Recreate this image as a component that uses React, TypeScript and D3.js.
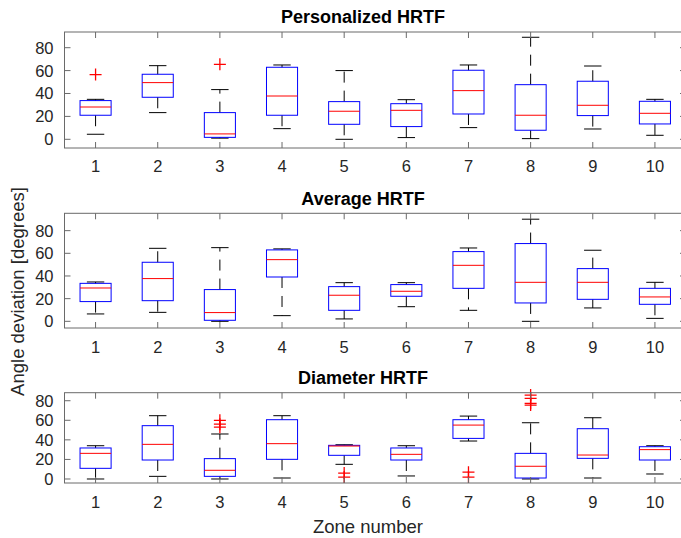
import React from 'react';
import * as d3 from 'd3';

// zone numbers on the x axis
const zones = [1, 2, 3, 4, 5, 6, 7, 8, 9, 10];
const yTicks = [0, 20, 40, 60, 80];

// Personalized HRTF
const persLow = [4.4, 23.3, 1.0, 9.3, 0, 1.5, 10.2, 0.6, 9.0, 3.5];
const persQ1 = [21.0, 36.7, 1.7, 21.0, 13.1, 11.1, 22.1, 7.9, 20.7, 13.4];
const persMed = [28.2, 49.5, 4.7, 37.8, 24.5, 25.3, 42.5, 21.0, 29.7, 22.7];
const persQ3 = [33.8, 56.8, 23.3, 62.9, 32.9, 31.1, 60.3, 47.7, 50.7, 33.2];
const persHigh = [34.9, 64.3, 43.4, 64.9, 60.0, 34.6, 64.9, 89.1, 64.0, 34.9];
const persOut: [number, number][] = [[1, 56.5], [3, 65.5]];

// Average HRTF
const avgLow = [6.5, 7.9, 0, 5.0, 2.1, 12.9, 9.7, 0, 11.8, 2.6];
const avgQ1 = [17.4, 18.2, 0.9, 39.1, 9.7, 22.1, 29.1, 16.2, 19.4, 15.0];
const avgMed = [29.4, 37.7, 7.7, 54.4, 23.0, 26.5, 49.4, 34.4, 34.4, 21.5];
const avgQ3 = [33.5, 52.1, 28.0, 63.0, 30.6, 32.4, 61.5, 68.6, 46.5, 29.1];
const avgHigh = [34.7, 64.4, 65.0, 63.9, 34.1, 34.1, 64.7, 90.1, 62.7, 34.4];
const avgOut: [number, number][] = [];

// Diameter HRTF
const diaLow = [0, 2.7, 0, 1.0, 15.0, 3.1, 38.8, 0, 1.0, 5.1];
const diaQ1 = [10.9, 19.4, 2.7, 20.1, 24.2, 19.4, 41.5, 1.0, 21.1, 19.4];
const diaMed = [26.2, 35.4, 8.9, 36.1, 33.7, 25.2, 55.1, 13.0, 24.5, 30.0];
const diaQ3 = [31.7, 54.5, 20.8, 60.6, 34.4, 31.7, 60.6, 26.2, 51.4, 33.0];
const diaHigh = [34.0, 64.7, 46.0, 64.7, 35.0, 34.0, 64.3, 57.5, 62.6, 34.0];
const diaOut: [number, number][] = [
  [3, 60], [3, 56], [3, 53],
  [5, 6], [5, 2],
  [7, 7], [7, 2],
  [8, 85.8], [8, 82.4], [8, 77.3], [8, 75.5],
];

const W = 681;
const H = 538;
const font = 'Liberation Sans, Arial, Helvetica, sans-serif';
const axisColor = '#6a6a6a';
const textColor = '#262626';

const x = d3.scaleLinear().domain([0.5, 10.5]).range([64.5, 686]);

type PanelProps = {
  title: string;
  top: number;
  bottom: number;
  ylim: [number, number];
  titleY: number;
  labelY: number;
  low: number[];
  q1: number[];
  med: number[];
  q3: number[];
  high: number[];
  out: [number, number][];
};

const Panel = ({ title, top, bottom, ylim, titleY, labelY, low, q1, med, q3, high, out }: PanelProps) => {
  const y = d3.scaleLinear().domain(ylim).range([bottom, top]);
  const left = x.range()[0];
  const right = x.range()[1];
  const boxHalf = 0.25;
  const capHalf = 0.14;
  const tick = 6;

  return (
    <g>
      {/* whiskers and caps */}
      {zones.map((z, i) => (
        <g key={'w' + z}>
          <line x1={x(z)} x2={x(z)} y1={y(q3[i])} y2={y(high[i])} stroke="#000" strokeWidth={1} strokeDasharray="11,8" />
          <line x1={x(z)} x2={x(z)} y1={y(q1[i])} y2={y(low[i])} stroke="#000" strokeWidth={1} strokeDasharray="11,8" />
          <line x1={x(z - capHalf)} x2={x(z + capHalf)} y1={y(high[i])} y2={y(high[i])} stroke="#000" strokeWidth={1} />
          <line x1={x(z - capHalf)} x2={x(z + capHalf)} y1={y(low[i])} y2={y(low[i])} stroke="#000" strokeWidth={1} />
        </g>
      ))}
      {/* boxes */}
      {zones.map((z, i) => (
        <rect key={'b' + z} x={x(z - boxHalf)} y={y(q3[i])} width={x(z + boxHalf) - x(z - boxHalf)}
          height={y(q1[i]) - y(q3[i])} fill="none" stroke="#0000ff" strokeWidth={1} />
      ))}
      {/* medians */}
      {zones.map((z, i) => (
        <line key={'m' + z} x1={x(z - boxHalf)} x2={x(z + boxHalf)} y1={y(med[i])} y2={y(med[i])} stroke="#ff0000" strokeWidth={1} />
      ))}
      {/* outliers */}
      {out.map(([z, v], i) => (
        <path key={'o' + i} d={`M${x(z) - 6},${y(v)}h12M${x(z)},${y(v) - 6}v12`} stroke="#ff0000" strokeWidth={1.3} fill="none" />
      ))}
      {/* axes box */}
      <rect x={left} y={top} width={right - left} height={bottom - top} fill="none" stroke={axisColor} strokeWidth={1} />
      {zones.map((z) => (
        <g key={'xt' + z}>
          <line x1={x(z)} x2={x(z)} y1={bottom} y2={bottom - tick} stroke={axisColor} />
          <line x1={x(z)} x2={x(z)} y1={top} y2={top + tick} stroke={axisColor} />
          <text x={x(z)} y={labelY} textAnchor="middle" fontSize={16.5} fill={textColor} fontFamily={font}>{z}</text>
        </g>
      ))}
      {yTicks.map((t) => (
        <g key={'yt' + t}>
          <line x1={left} x2={left + tick} y1={y(t)} y2={y(t)} stroke={axisColor} />
          <line x1={right} x2={right - tick} y1={y(t)} y2={y(t)} stroke={axisColor} />
          <text x={left - 11} y={y(t)} dy="0.36em" textAnchor="end" fontSize={16.5} fill={textColor} fontFamily={font}>{t}</text>
        </g>
      ))}
      <text x={363} y={titleY} textAnchor="middle" fontSize={18} fontWeight="bold" fill="#000" fontFamily={font}>{title}</text>
    </g>
  );
};

export default function App() {
  return (
    <div style={{ position: 'fixed', left: 0, top: 0 }}>
      <svg width={W} height={H} style={{ display: 'block', background: '#fff' }}>
        <Panel title="Personalized HRTF" top={32} bottom={148} ylim={[-7.6, 93.7]} titleY={22.7} labelY={171.7}
          low={persLow} q1={persQ1} med={persMed} q3={persQ3} high={persHigh} out={persOut} />
        <Panel title="Average HRTF" top={213.3} bottom={328} ylim={[-5.9, 95.3]} titleY={205} labelY={352.7}
          low={avgLow} q1={avgQ1} med={avgMed} q3={avgQ3} high={avgHigh} out={avgOut} />
        <Panel title="Diameter HRTF" top={392.7} bottom={483} ylim={[-4.1, 88.2]} titleY={384} labelY={508.3}
          low={diaLow} q1={diaQ1} med={diaMed} q3={diaQ3} high={diaHigh} out={diaOut} />
        <text x={368} y={532.5} textAnchor="middle" fontSize={18.5} fill={textColor} fontFamily={font}>Zone number</text>
        <text transform="translate(23.5,291.5) rotate(-90)" textAnchor="middle" fontSize={18.5} fill={textColor} fontFamily={font}>
          Angle deviation [degrees]
        </text>
      </svg>
    </div>
  );
}
